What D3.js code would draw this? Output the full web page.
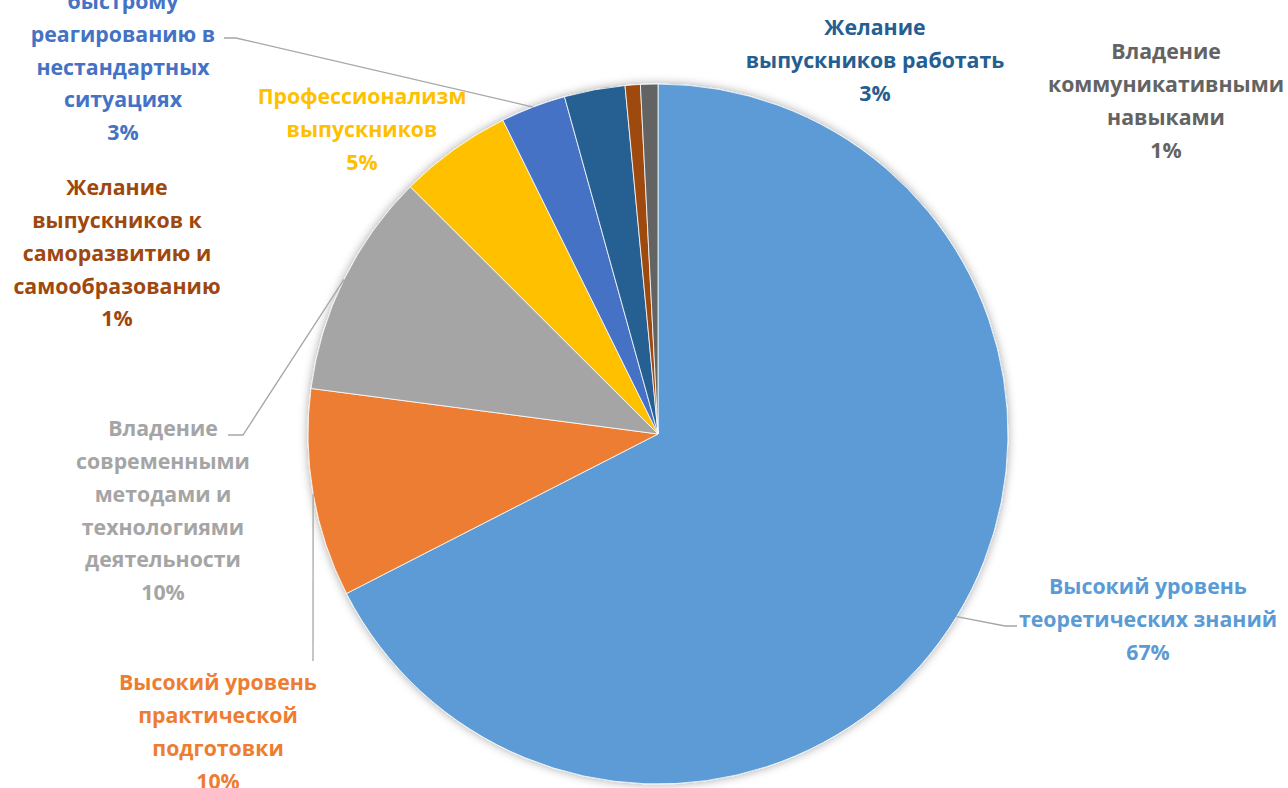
<head>
<script src="https://d3js.org/d3.v7.min.js"></script>
<style>
  body { margin: 0; background: #fff; }
  .lbl { font-family: "Open Sans", Lato, sans-serif; font-weight: bold; }
  .leader { fill: none; stroke: #a6a6a6; stroke-width: 1.3; }
</style>
</head>
<body>
<svg id="chart" width="1288" height="788"></svg>
<script>
// data, clockwise from 12 o'clock
const categories = [
  ['Высокий уровень', 'теоретических знаний'],
  ['Высокий уровень', 'практической', 'подготовки'],
  ['Владение', 'современными', 'методами и', 'технологиями', 'деятельности'],
  ['Профессионализм', 'выпускников'],
  ['Способность к', 'быстрому', 'реагированию в', 'нестандартных', 'ситуациях'],
  ['Желание', 'выпускников работать'],
  ['Желание', 'выпускников к', 'саморазвитию и', 'самообразованию'],
  ['Владение', 'коммуникативными', 'навыками']
];
const values = [67.4, 9.6, 10.4, 5.2, 3.0, 2.8, 0.7, 0.8];
const colors = ['#5B9BD5', '#ED7D31', '#A5A5A5', '#FFC000', '#4472C4', '#255E91', '#9E480E', '#636363'];

// label layout: centre x, y of the first line, optional leader elbow
const labelPos = [
  {x: 1148, y: 587, elbow: [1005, 626], end: [1017, 626]},
  {x: 218, y: 683, elbow: null, end: [313, 661]},
  {x: 163, y: 429, elbow: [243, 435], end: [228, 435]},
  {x: 362, y: 97},
  {x: 123, y: -31, elbow: [236, 38], end: [224, 38]},
  {x: 875, y: 28},
  {x: 117, y: 188},
  {x: 1166, y: 52}
];

const svg = d3.select('#chart');
const cx = 658, cy = 434, r = 350;
const lineH = 32.7;

const defs = svg.append('defs');
defs.append('filter').attr('id', 'shadow')
  .attr('x', '-10%').attr('y', '-10%').attr('width', '120%').attr('height', '120%')
  .append('feDropShadow')
  .attr('dx', 0).attr('dy', 0).attr('stdDeviation', 5)
  .attr('flood-color', '#000').attr('flood-opacity', 0.35);

const total = d3.sum(values);
const pie = d3.pie().sort(null).value(d => d)(values);
const arc = d3.arc().innerRadius(0).outerRadius(r);
const edge = d3.arc().innerRadius(r).outerRadius(r);

let g = svg.append('g').attr('transform', `translate(${cx},${cy})`);

g.append('g').attr('filter', 'url(#shadow)')
  .selectAll('path')
  .data(pie)
  .join('path')
  .attr('d', arc)
  .attr('fill', (d, i) => colors[i])
  .attr('stroke', '#fff')
  .attr('stroke-width', 0.8);

// leader lines
pie.forEach((d, i) => {
  const p = labelPos[i];
  if (!p.end) return;
  const s = edge.centroid(d);
  const pts = [[s[0] + cx, s[1] + cy]];
  if (p.elbow) pts.push(p.elbow);
  pts.push(p.end);
  svg.append('path').attr('class', 'leader').attr('d', d3.line()(pts));
});

// labels
pie.forEach((d, i) => {
  const p = labelPos[i];
  const lines = categories[i].concat([Math.round(values[i] / total * 100) + '%']);
  const t = svg.append('text').attr('class', 'lbl')
    .attr('text-anchor', 'middle')
    .attr('font-size', 21.3)
    .attr('fill', colors[i]);
  lines.forEach((s, k) => {
    t.append('tspan').attr('x', p.x).attr('y', p.y + k * lineH).attr('dy', '0.35em').text(s);
  });
});
</script>
</body>
